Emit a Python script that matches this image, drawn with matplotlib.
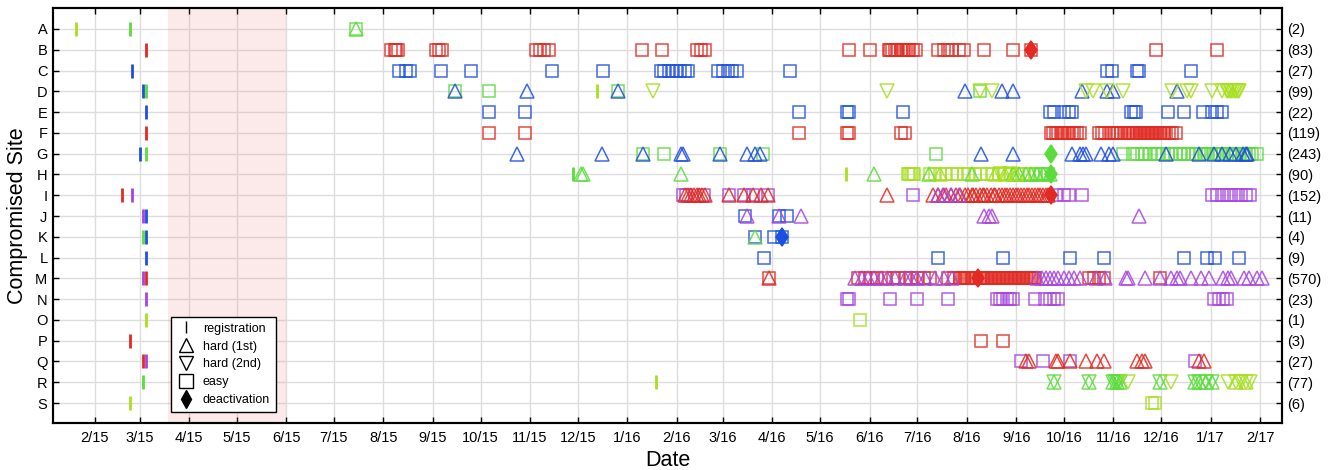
import datetime as dt
import pandas as pd
import matplotlib
matplotlib.use("Agg")
import matplotlib.pyplot as plt
import matplotlib.dates as mdates
from matplotlib.lines import Line2D

plt.rcParams['font.family'] = ['Liberation Sans', 'DejaVu Sans']

sites = list("ABCDEFGHIJKLMNOPQRS")
counts = [2, 83, 27, 99, 22, 119, 243, 90, 152, 11, 4, 9, 570, 23, 1, 3, 27, 77, 6]

colors = {
    "red": "#e02a22",
    "blue": "#1f4fe0",
    "purple": "#a844e0",
    "green": "#5cdc3c",
    "yg": "#a6e01e",
}

shade_start = "2015-03-19"
shade_end = "2015-06-01"

# (site, colour, dates)
registration = [
    ("A", "yg", ["2015-01-20"]),
    ("A", "green", ["2015-02-23"]),
    ("B", "red", ["2015-03-05"]),
    ("C", "blue", ["2015-02-24"]),
    ("D", "blue", ["2015-03-03"]),
    ("D", "green", ["2015-03-05"]),
    ("D", "yg", ["2015-12-13"]),
    ("E", "blue", ["2015-03-05"]),
    ("F", "red", ["2015-03-05"]),
    ("G", "blue", ["2015-03-01"]),
    ("G", "green", ["2015-03-05"]),
    ("H", "green", ["2015-11-28"]),
    ("H", "yg", ["2016-05-17"]),
    ("I", "red", ["2015-02-18"]),
    ("I", "purple", ["2015-02-24"]),
    ("J", "purple", ["2015-03-03"]),
    ("J", "blue", ["2015-03-05"]),
    ("K", "green", ["2015-03-03"]),
    ("K", "blue", ["2015-03-05"]),
    ("L", "blue", ["2015-03-05"]),
    ("M", "purple", ["2015-03-03"]),
    ("M", "red", ["2015-03-05"]),
    ("N", "purple", ["2015-03-05"]),
    ("O", "yg", ["2015-03-05"]),
    ("P", "red", ["2015-02-23"]),
    ("Q", "red", ["2015-03-03"]),
    ("Q", "purple", ["2015-03-05"]),
    ("R", "green", ["2015-03-03"]),
    ("R", "yg", ["2016-01-19"]),
    ("S", "yg", ["2015-02-23"]),
]

hard_first = [
    ("A", "green", ["2015-07-15"]),
    ("D", "blue", ["2015-09-15", "2015-10-30", "2015-12-26", "2016-07-31", "2016-08-23",
                   "2016-08-30", "2016-10-12", "2016-10-28", "2016-11-01", "2016-12-11"]),
    ("G", "blue", ["2015-10-24", "2015-12-16", "2016-01-11", "2016-02-04", "2016-02-05",
                   "2016-02-28", "2016-03-16", "2016-03-21", "2016-03-24", "2016-08-10",
                   "2016-08-30", "2016-10-06", "2016-10-11", "2016-10-13", "2016-10-15",
                   "2016-10-24", "2016-10-29", "2016-11-01", "2016-12-04", "2016-12-25",
                   "2017-01-03", "2017-01-08", "2017-01-13", "2017-01-17", "2017-01-21",
                   "2017-01-23", "2017-01-24"]),
    ("H", "green", ["2015-12-03", "2015-12-04", "2016-02-04", "2016-06-04", "2016-07-08",
                    "2016-08-04", "2016-08-30", "2016-09-03", "2016-09-07", "2016-09-10",
                    "2016-09-14", "2016-09-18", "2016-09-22"]),
    ("H", "yg", ["2016-07-15", "2016-08-19", "2016-08-25", "2016-09-01"]),
    ("I", "red", ["2016-02-06", "2016-02-08", "2016-02-10", "2016-02-12", "2016-02-14",
                  "2016-02-15", "2016-02-17", "2016-02-19", "2016-03-05", "2016-03-14",
                  "2016-03-20", "2016-03-25", "2016-03-29", "2016-06-12", "2016-07-11",
                  "2016-07-14", "2016-07-17", "2016-07-19", "2016-07-22", "2016-07-25",
                  "2016-07-28", "2016-07-31", "2016-08-02", "2016-08-04", "2016-08-05",
                  "2016-08-07", "2016-08-09", "2016-08-11", "2016-08-12", "2016-08-14",
                  "2016-08-16", "2016-08-18", "2016-08-19", "2016-08-21", "2016-08-23",
                  "2016-08-25", "2016-08-26", "2016-08-28", "2016-08-30", "2016-09-01",
                  "2016-09-02", "2016-09-04", "2016-09-06", "2016-09-08", "2016-09-09",
                  "2016-09-11", "2016-09-13", "2016-09-15", "2016-09-16", "2016-09-18",
                  "2016-09-20", "2016-09-21"]),
    ("I", "purple", ["2016-07-14", "2016-07-18", "2016-07-22", "2016-07-27"]),
    ("J", "purple", ["2016-03-16", "2016-04-05", "2016-04-19", "2016-08-12", "2016-08-15",
                     "2016-08-17", "2016-11-17"]),
    ("K", "green", ["2016-03-21"]),
    ("M", "red", ["2016-03-30"]),
    ("M", "purple", ["2016-05-23", "2016-05-27", "2016-05-31", "2016-06-04", "2016-06-08",
                     "2016-06-12", "2016-06-17", "2016-06-23", "2016-06-27", "2016-07-01",
                     "2016-07-06", "2016-07-12", "2016-07-18", "2016-07-23", "2016-09-14",
                     "2016-09-17", "2016-09-20", "2016-09-22", "2016-09-25", "2016-09-27",
                     "2016-10-01", "2016-10-04", "2016-10-07", "2016-10-11", "2016-10-21",
                     "2016-10-27", "2016-11-09", "2016-11-10", "2016-11-21", "2016-11-30",
                     "2016-12-07", "2016-12-11", "2016-12-13", "2016-12-20", "2016-12-26",
                     "2016-12-31", "2017-01-09", "2017-01-12", "2017-01-14", "2017-01-22",
                     "2017-01-25", "2017-01-30", "2017-02-02"]),
    ("Q", "red", ["2016-09-07", "2016-09-09", "2016-09-26", "2016-09-27", "2016-10-05",
                  "2016-10-15", "2016-10-22", "2016-10-26", "2016-11-16", "2016-11-19",
                  "2016-11-21", "2016-12-25", "2016-12-28"]),
    ("R", "green", ["2016-09-25", "2016-10-17", "2016-11-01", "2016-11-03", "2016-11-05",
                    "2016-11-30", "2016-12-22", "2016-12-25", "2016-12-29", "2017-01-02"]),
    ("R", "yg", ["2017-01-17", "2017-01-23"]),
]

hard_second = [
    ("D", "yg", ["2016-01-17", "2016-06-12", "2016-08-09", "2016-08-17", "2016-10-15",
                 "2016-10-19", "2016-10-28", "2016-11-07", "2016-12-08", "2016-12-17",
                 "2016-12-20", "2017-01-02", "2017-01-08", "2017-01-11", "2017-01-12",
                 "2017-01-13", "2017-01-14", "2017-01-15", "2017-01-16", "2017-01-17",
                 "2017-01-18", "2017-01-19"]),
    ("H", "yg", ["2016-08-22", "2016-08-28"]),
    ("R", "green", ["2016-09-25", "2016-10-17", "2016-11-01", "2016-11-02", "2016-11-03",
                    "2016-11-04", "2016-11-05", "2016-11-30", "2016-12-22", "2016-12-25",
                    "2016-12-29", "2017-01-02"]),
    ("R", "yg", ["2016-11-10", "2016-12-07", "2017-01-12", "2017-01-17", "2017-01-20",
                 "2017-01-23", "2017-01-26"]),
]

easy = [
    ("A", "green", ["2015-07-15"]),
    ("B", "red", ["2015-08-06", "2015-08-08", "2015-08-09", "2015-08-10", "2015-09-03",
                  "2015-09-05", "2015-09-07", "2015-11-05", "2015-11-07", "2015-11-10",
                  "2015-11-13", "2016-01-10", "2016-01-23", "2016-02-14", "2016-02-16",
                  "2016-02-19", "2016-05-19", "2016-06-01", "2016-06-13", "2016-06-14",
                  "2016-06-15", "2016-06-17", "2016-06-18", "2016-06-19", "2016-06-21",
                  "2016-06-22", "2016-06-24", "2016-06-25", "2016-06-26", "2016-06-28",
                  "2016-06-30", "2016-07-14", "2016-07-18", "2016-07-20", "2016-07-23",
                  "2016-07-27", "2016-07-30", "2016-08-12", "2016-08-30", "2016-09-10",
                  "2016-11-28", "2017-01-05"]),
    ("C", "blue", ["2015-08-11", "2015-08-15", "2015-08-18", "2015-09-06", "2015-09-25",
                   "2015-11-15", "2015-12-17", "2016-01-22", "2016-01-24", "2016-01-27",
                   "2016-01-29", "2016-02-01", "2016-02-03", "2016-02-06", "2016-02-08",
                   "2016-02-27", "2016-03-01", "2016-03-04", "2016-03-07", "2016-03-10",
                   "2016-04-12", "2016-10-28", "2016-10-31", "2016-11-16", "2016-11-17",
                   "2016-12-20"]),
    ("D", "green", ["2015-09-15", "2015-10-06", "2015-12-26", "2016-08-09"]),
    ("E", "blue", ["2015-10-06", "2015-10-29", "2016-04-18", "2016-05-18", "2016-05-19",
                   "2016-06-22", "2016-09-22", "2016-09-25", "2016-10-01", "2016-10-04",
                   "2016-10-06", "2016-11-12", "2016-11-14", "2016-11-15", "2016-12-05",
                   "2016-12-15", "2016-12-27", "2017-01-02", "2017-01-05", "2017-01-08"]),
    ("F", "red", ["2015-10-06", "2015-10-29", "2016-04-18", "2016-05-18", "2016-05-19",
                  "2016-06-21", "2016-06-23", "2016-09-23", "2016-09-24", "2016-09-26",
                  "2016-09-27", "2016-09-29", "2016-09-30", "2016-10-01", "2016-10-03",
                  "2016-10-04", "2016-10-06", "2016-10-07", "2016-10-09", "2016-10-11",
                  "2016-10-23", "2016-10-25", "2016-10-27", "2016-10-29", "2016-10-31",
                  "2016-11-02", "2016-11-04", "2016-11-06", "2016-11-08", "2016-11-10",
                  "2016-11-11", "2016-11-12", "2016-11-13", "2016-11-14", "2016-11-15",
                  "2016-11-16", "2016-11-17", "2016-11-18", "2016-11-19", "2016-11-20",
                  "2016-11-21", "2016-11-22", "2016-11-23", "2016-11-24", "2016-11-25",
                  "2016-11-26", "2016-11-27", "2016-11-28", "2016-11-29", "2016-11-30",
                  "2016-12-01", "2016-12-02", "2016-12-03", "2016-12-04", "2016-12-06",
                  "2016-12-08", "2016-12-10"]),
    ("G", "green", ["2016-01-11", "2016-01-24", "2016-02-28", "2016-03-26", "2016-07-13",
                    "2016-11-07", "2016-11-13", "2016-11-16", "2016-11-19", "2016-11-21",
                    "2016-11-24", "2016-11-27", "2016-11-29", "2016-12-02", "2016-12-05",
                    "2016-12-07", "2016-12-10", "2016-12-13", "2016-12-15", "2016-12-18",
                    "2016-12-21", "2016-12-23", "2016-12-26", "2016-12-28", "2016-12-30",
                    "2017-01-01", "2017-01-03", "2017-01-05", "2017-01-07", "2017-01-09",
                    "2017-01-11", "2017-01-13", "2017-01-15", "2017-01-17", "2017-01-19",
                    "2017-01-21", "2017-01-23", "2017-01-25", "2017-01-27", "2017-01-30"]),
    ("H", "yg", ["2016-06-25", "2016-06-26", "2016-06-27", "2016-06-28", "2016-06-29",
                 "2016-07-09", "2016-07-12", "2016-07-15", "2016-07-19", "2016-07-23",
                 "2016-07-26", "2016-07-30", "2016-08-02", "2016-08-06", "2016-08-10",
                 "2016-08-14", "2016-08-17", "2016-08-21", "2016-08-25", "2016-08-28",
                 "2016-09-02", "2016-09-06", "2016-09-09", "2016-09-13"]),
    ("H", "green", ["2016-09-16", "2016-09-19", "2016-09-21"]),
    ("I", "purple", ["2016-02-05", "2016-02-07", "2016-02-18", "2016-03-05", "2016-03-14",
                     "2016-03-20", "2016-03-29", "2016-06-28", "2016-09-26", "2016-10-01",
                     "2016-10-04", "2016-10-12", "2017-01-02", "2017-01-05", "2017-01-08",
                     "2017-01-11", "2017-01-14", "2017-01-17", "2017-01-20", "2017-01-23",
                     "2017-01-26"]),
    ("J", "blue", ["2016-03-15", "2016-04-05", "2016-04-10"]),
    ("K", "blue", ["2016-03-21", "2016-04-02", "2016-04-07"]),
    ("L", "blue", ["2016-03-27", "2016-07-14", "2016-08-24", "2016-10-05", "2016-10-26",
                   "2016-12-15", "2016-12-30", "2017-01-04", "2017-01-19"]),
    ("M", "red", ["2016-03-30", "2016-05-25", "2016-05-29", "2016-06-02", "2016-06-06",
                  "2016-06-11", "2016-06-16", "2016-06-19", "2016-06-24", "2016-06-27",
                  "2016-07-01", "2016-07-05", "2016-07-09", "2016-07-20", "2016-07-24",
                  "2016-07-28", "2016-07-29", "2016-07-30", "2016-07-31", "2016-08-01",
                  "2016-08-02", "2016-08-03", "2016-08-04", "2016-08-05", "2016-08-06",
                  "2016-08-07", "2016-08-09", "2016-08-10", "2016-08-11", "2016-08-12",
                  "2016-08-13", "2016-08-14", "2016-08-15", "2016-08-16", "2016-08-17",
                  "2016-08-18", "2016-08-19", "2016-08-20", "2016-08-21", "2016-08-22",
                  "2016-08-23", "2016-08-24", "2016-08-25", "2016-08-26", "2016-08-27",
                  "2016-08-28", "2016-08-29", "2016-08-30", "2016-08-31", "2016-09-01",
                  "2016-09-02", "2016-09-03", "2016-09-04", "2016-09-05", "2016-09-06",
                  "2016-09-07", "2016-09-08", "2016-09-09", "2016-09-10", "2016-09-11",
                  "2016-09-12", "2016-09-13", "2016-10-17", "2016-10-20", "2016-10-23",
                  "2016-10-26", "2016-11-30"]),
    ("N", "purple", ["2016-05-18", "2016-05-19", "2016-06-14", "2016-07-01", "2016-07-20",
                     "2016-08-20", "2016-08-22", "2016-08-24", "2016-08-26", "2016-08-28",
                     "2016-08-30", "2016-09-13", "2016-09-19", "2016-09-22", "2016-09-25",
                     "2016-09-27", "2017-01-03", "2017-01-06", "2017-01-09", "2017-01-11"]),
    ("O", "yg", ["2016-05-26"]),
    ("P", "red", ["2016-08-10", "2016-08-24"]),
    ("Q", "purple", ["2016-09-04", "2016-09-18", "2016-10-05", "2016-12-22"]),
    ("S", "yg", ["2016-11-25", "2016-11-27"]),
]

deactivation = [
    ("B", "red", ["2016-09-10"]),
    ("G", "green", ["2016-09-23"]),
    ("H", "green", ["2016-09-23"]),
    ("I", "red", ["2016-09-23"]),
    ("K", "blue", ["2016-04-07"]),
    ("M", "red", ["2016-08-08"]),
]


def draw(ax, groups, marker, filled=False, ms=9.4, mew=1.1, alpha=0.85):
    for site, key, dates in groups:
        x = pd.to_datetime(dates)
        y = [sites.index(site)] * len(x)
        c = colors[key]
        ax.plot(x, y, ls='none', marker=marker, ms=ms, mew=mew, mec=c,
                mfc=c if filled else 'none', alpha=alpha, zorder=3)


fig = plt.figure(figsize=(13.31, 4.70), dpi=100)
ax = fig.add_axes([0.0398, 0.1, 0.9234, 0.883])

ax.axvspan(pd.Timestamp(shade_start), pd.Timestamp(shade_end), color='#f08080',
           alpha=0.16, lw=0, zorder=1)

draw(ax, easy, 's', ms=9)
draw(ax, hard_first, '^')
draw(ax, hard_second, 'v')
draw(ax, registration, '|', ms=10, mew=2, alpha=1)
draw(ax, deactivation, 'd', filled=True, ms=9.5, alpha=1)

ax.set_xlim(dt.datetime(2015, 1, 5, 17), dt.datetime(2017, 2, 14, 19))
ax.set_ylim(18.96, -1.01)
ax.set_yticks(range(len(sites)))
ax.set_yticklabels(sites)
ax.xaxis.set_major_locator(mdates.MonthLocator())
ax.xaxis.set_major_formatter(mdates.DateFormatter('%-m/%y'))
ax.grid(True, color='#dddddd', lw=1, zorder=0)
ax.set_axisbelow(True)
ax.tick_params(direction='in', length=4, width=1, top=True, labelsize=10.5)
ax.tick_params(axis='x', pad=6)
ax.tick_params(axis='y', pad=4)
for s in ax.spines.values():
    s.set_linewidth(1.5)

ax2 = ax.twinx()
ax2.set_ylim(ax.get_ylim())
ax2.set_yticks(range(len(sites)))
ax2.set_yticklabels([f"({c})" for c in counts])
ax2.tick_params(direction='in', length=4, width=1, labelsize=10.5, pad=4)
for s in ax2.spines.values():
    s.set_linewidth(1.5)

ax.set_xlabel("Date", fontsize=15.5, labelpad=3)
ax.set_ylabel("Compromised Site", fontsize=15.5, labelpad=5)

handles = [
    Line2D([], [], ls='none', marker='|', color='k', ms=9, mew=1),
    Line2D([], [], ls='none', marker='^', mec='k', mfc='none', ms=10, mew=1),
    Line2D([], [], ls='none', marker='v', mec='k', mfc='none', ms=10, mew=1),
    Line2D([], [], ls='none', marker='s', mec='k', mfc='none', ms=9.5, mew=1),
    Line2D([], [], ls='none', marker='d', color='k', ms=9),
]
labels = ["registration", "hard (1st)", "hard (2nd)", "easy", "deactivation"]
leg = ax.legend(handles, labels, loc='lower left', bbox_to_anchor=(0.096, 0.027),
                fontsize=9, fancybox=False, framealpha=1, edgecolor='k',
                handlelength=1.5, handletextpad=0.6, labelspacing=0.47,
                borderpad=0.45, borderaxespad=0)
leg.get_frame().set_linewidth(1)
leg.set_zorder(5)

fig.savefig("out.png", dpi=100)
